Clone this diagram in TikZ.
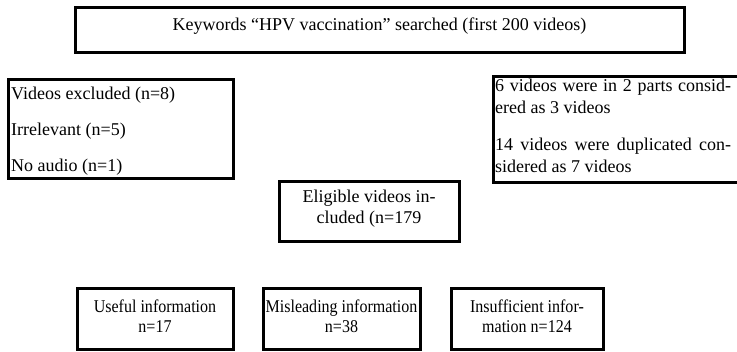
\documentclass[tikz,border=0pt]{standalone}
\usepackage{fontspec}
\setmainfont{Liberation Serif}
\newfontfamily\narrowserif{Liberation Serif}[FakeStretch=0.89]
\tikzset{
  box/.style={draw, line width=3pt, inner sep=0pt},
  lt/.style={inner sep=0pt, anchor=base west, font=\fontsize{18}{22}\selectfont},
  ct/.style={inner sep=0pt, anchor=base, font=\fontsize{18}{22}\selectfont},
  nt/.style={inner sep=0pt, anchor=base, font=\narrowserif\fontsize{18}{22}\selectfont}
}
\begin{document}
\begin{tikzpicture}[x=1pt,y=-1pt]
\useasboundingbox (0,0) rectangle (737,352);
% boxes
\node[box, minimum width=609pt, minimum height=45pt] (top) at (379.5,30.5) {};
\node[box, minimum width=225pt, minimum height=99pt] (excl) at (120.5,129.5) {};
\node[box, minimum width=252pt, minimum height=106pt] (dup) at (619,130) {};
\node[box, minimum width=180pt, minimum height=60pt] (elig) at (369,212) {};
\node[box, minimum width=156pt, minimum height=61pt] (useful) at (155,319.5) {};
\node[box, minimum width=157pt, minimum height=61pt] (mis) at (341.5,319.5) {};
\node[box, minimum width=152pt, minimum height=61pt] (ins) at (527,319.5) {};
% texts
\node[ct] (t1) at (379.5,31) {Keywords “HPV vaccination” searched (first 200 videos)};
\node[lt] (e1) at (11,100) {Videos excluded (n=8)};
\node[lt] (e2) at (11,136) {Irrelevant (n=5)};
\node[lt] (e3) at (11,172) {No audio (n=1)};
\node[lt] (d1) at (495,92) {\makebox[236pt][s]{6 videos were in 2 parts consid-}};
\node[lt] (d2) at (495,114) {ered as 3 videos};
\node[lt] (d3) at (495,151) {\makebox[236pt][s]{14 videos were duplicated con-}};
\node[lt] (d4) at (495,173) {sidered as 7 videos};
\node[ct] (g1) at (369,203) {Eligible videos in-};
\node[ct] (g2) at (369,224) {cluded (n=179};
\node[nt] (u1) at (155,313) {Useful information};
\node[nt] (u2) at (155,333) {n=17};
\node[nt] (m1) at (341.5,313) {Misleading information};
\node[nt] (m2) at (341.5,333) {n=38};
\node[nt] (i1) at (527,313) {Insufficient infor-};
\node[nt] (i2) at (527,333) {mation n=124};
\end{tikzpicture}
\end{document}
